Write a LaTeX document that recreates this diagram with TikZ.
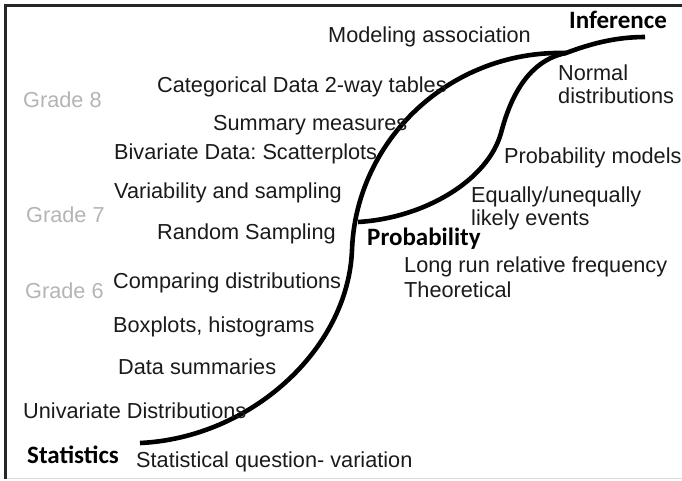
\documentclass[tikz,border=0pt]{standalone}
\usepackage{fontspec}
\setmainfont{Liberation Sans}
\newfontfamily\labelfont{Carlito}
\definecolor{txt}{HTML}{1A1A1A}
\definecolor{grade}{HTML}{B4B4B4}
\frenchspacing
\begin{document}
\begin{tikzpicture}[x=1pt,y=-1pt,
  item/.style={anchor=base west,inner sep=0pt,text=txt,font=\fontsize{21.7}{24}\selectfont},
  gradelbl/.style={anchor=base west,inner sep=0pt,text=grade,font=\fontsize{21.7}{24}\selectfont},
  fieldlbl/.style={anchor=base west,inner sep=0pt,text=black,font=\labelfont\bfseries\fontsize{25}{28}\selectfont},
  curve/.style={line width=4.6pt,black}]
\useasboundingbox (0,0) rectangle (682,480);
% frame
\coordinate (fTL) at (5.5,5.5);
\coordinate (fTR) at (682,5.5);
\coordinate (fBL) at (5.5,478.5);
\coordinate (fBR) at (682,478.5);
\draw[line width=0.8pt,color=black!15] (fBL) -- (fBR);
\draw[line width=2.6pt,color=black!85] (fBL) -- (fTL) -- (fTR);
% curves
\coordinate (S) at (140,443);
\coordinate (P) at (352,250);
\coordinate (J) at (566,53);
\coordinate (I) at (645,37);
\coordinate (Q) at (358,222);
\coordinate (M) at (501,133);
\draw[curve] (S) .. controls (250,438) and (348,350) .. (P)
  .. controls (356,140) and (450,50) .. (J);
\draw[curve] (Q) .. controls (425,218) and (488,180) .. (M)
  .. controls (506,115) and (520,62) .. (J)
  .. controls (590,44) and (615,37) .. (I);
% texts
\node[item] (modassoc) at (328,42) {Modeling association};
\node[item] (cat) at (157,92) {Categorical Data 2-way tables};
\node[gradelbl] (g8) at (23,107) {Grade 8};
\node[item] (summ) at (213,130) {Summary measures};
\node[item] (biv) at (114,159) {Bivariate Data: Scatterplots};
\node[item] (var) at (114,198) {Variability and sampling};
\node[gradelbl] (g7) at (26,222) {Grade 7};
\node[item] (rand) at (157,239) {Random Sampling};
\node[item] (comp) at (113,288) {Comparing distributions};
\node[gradelbl] (g6) at (25,298) {Grade 6};
\node[item] (boxp) at (113,332) {Boxplots, histograms};
\node[item] (dsum) at (118,374) {Data summaries};
\node[item] (univ) at (23,418) {Univariate Distributions};
\node[fieldlbl] (stat) at (27,463) {Statistics};
\node[item] (sq) at (136,467) {Statistical question- variation};
\node[fieldlbl] (inf) at (569,28) {Inference};
\node[item] (normal) at (558,80) {Normal};
\node[item] (ndist) at (558,103) {distributions};
\node[item] (pm) at (504,163) {Probability models};
\node[item] (eq) at (471,202) {Equally/unequally};
\node[item] (likely) at (471,225) {likely events};
\node[fieldlbl] (prob) at (367,245) {Probability};
\node[item] (longrun) at (404,272) {Long run relative frequency};
\node[item] (theo) at (404,297) {Theoretical};
\end{tikzpicture}
\end{document}
